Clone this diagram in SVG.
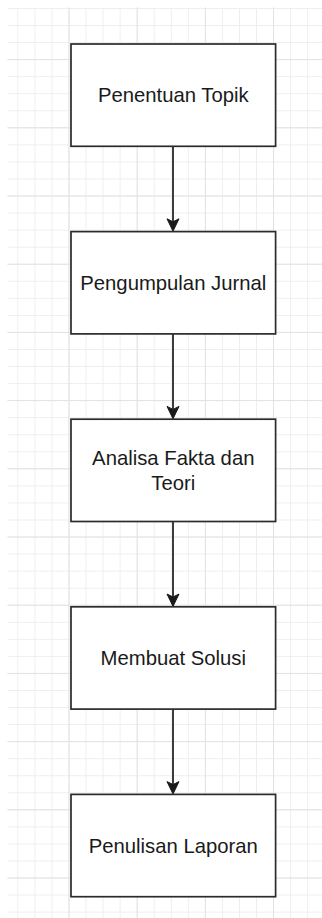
<svg xmlns="http://www.w3.org/2000/svg" width="322" height="918" viewBox="0 0 322 918">
  <style>
    .box { fill: #ffffff; stroke: #2b2b2b; stroke-width: 1.7; }
    .label { font-family: "Liberation Sans", Arial, sans-serif; font-size: 20.3px; fill: #1a1a1a; text-anchor: middle; }
    .edge { stroke: #1a1a1a; stroke-width: 1.7; fill: none; }
    .head { fill: #1a1a1a; stroke: #1a1a1a; stroke-width: 1; stroke-linejoin: miter; }
  </style>
  <defs>
    <pattern id="gridMinor" patternUnits="userSpaceOnUse" x="0.3" y="8" width="17.05" height="17.05">
      <rect x="0" y="0" width="1" height="17.05" fill="#eeeeee"/>
      <rect x="0" y="0" width="17.05" height="1" fill="#eeeeee"/>
    </pattern>
    <pattern id="gridMajor" patternUnits="userSpaceOnUse" x="0.3" y="59.1" width="68.2" height="68.2">
      <rect x="0" y="0" width="1" height="68.2" fill="#e2e2e2"/>
      <rect x="0" y="0" width="68.2" height="1" fill="#e2e2e2"/>
    </pattern>
  </defs>

  <!-- canvas -->
  <rect width="322" height="918" fill="#ffffff"/>
  <rect x="7.5" y="7.5" width="314.5" height="910.5" fill="url(#gridMinor)"/>
  <rect x="7.5" y="7.5" width="314.5" height="910.5" fill="url(#gridMajor)"/>

  <!-- connectors -->
  <g id="connectors">
    <path class="edge" d="M173 146.3 V222"/>
    <polygon class="head" points="173,231.2 167,218.8 173,221.8 179,218.8"/>
    <path class="edge" d="M173 333.9 V409.6"/>
    <polygon class="head" points="173,418.8 167,406.4 173,409.4 179,406.4"/>
    <path class="edge" d="M173 521.5 V597.2"/>
    <polygon class="head" points="173,606.4 167,594 173,597 179,594"/>
    <path class="edge" d="M173 709.1 V784.8"/>
    <polygon class="head" points="173,794 167,781.6 173,784.6 179,781.6"/>
  </g>

  <!-- process steps -->
  <g id="step1">
    <rect class="box" x="71" y="44" width="204.6" height="102.3"/>
    <text class="label" x="173.3" y="102.4">Penentuan Topik</text>
  </g>
  <g id="step2">
    <rect class="box" x="71" y="231.6" width="204.6" height="102.3"/>
    <text class="label" x="173.3" y="290">Pengumpulan Jurnal</text>
  </g>
  <g id="step3">
    <rect class="box" x="71" y="419.2" width="204.6" height="102.3"/>
    <text class="label" x="173.3" y="465.2">Analisa Fakta dan</text>
    <text class="label" x="173.3" y="489.6">Teori</text>
  </g>
  <g id="step4">
    <rect class="box" x="71" y="606.8" width="204.6" height="102.3"/>
    <text class="label" x="173.3" y="665.2">Membuat Solusi</text>
  </g>
  <g id="step5">
    <rect class="box" x="71" y="794.4" width="204.6" height="102.3"/>
    <text class="label" x="173.3" y="852.8">Penulisan Laporan</text>
  </g>
</svg>
